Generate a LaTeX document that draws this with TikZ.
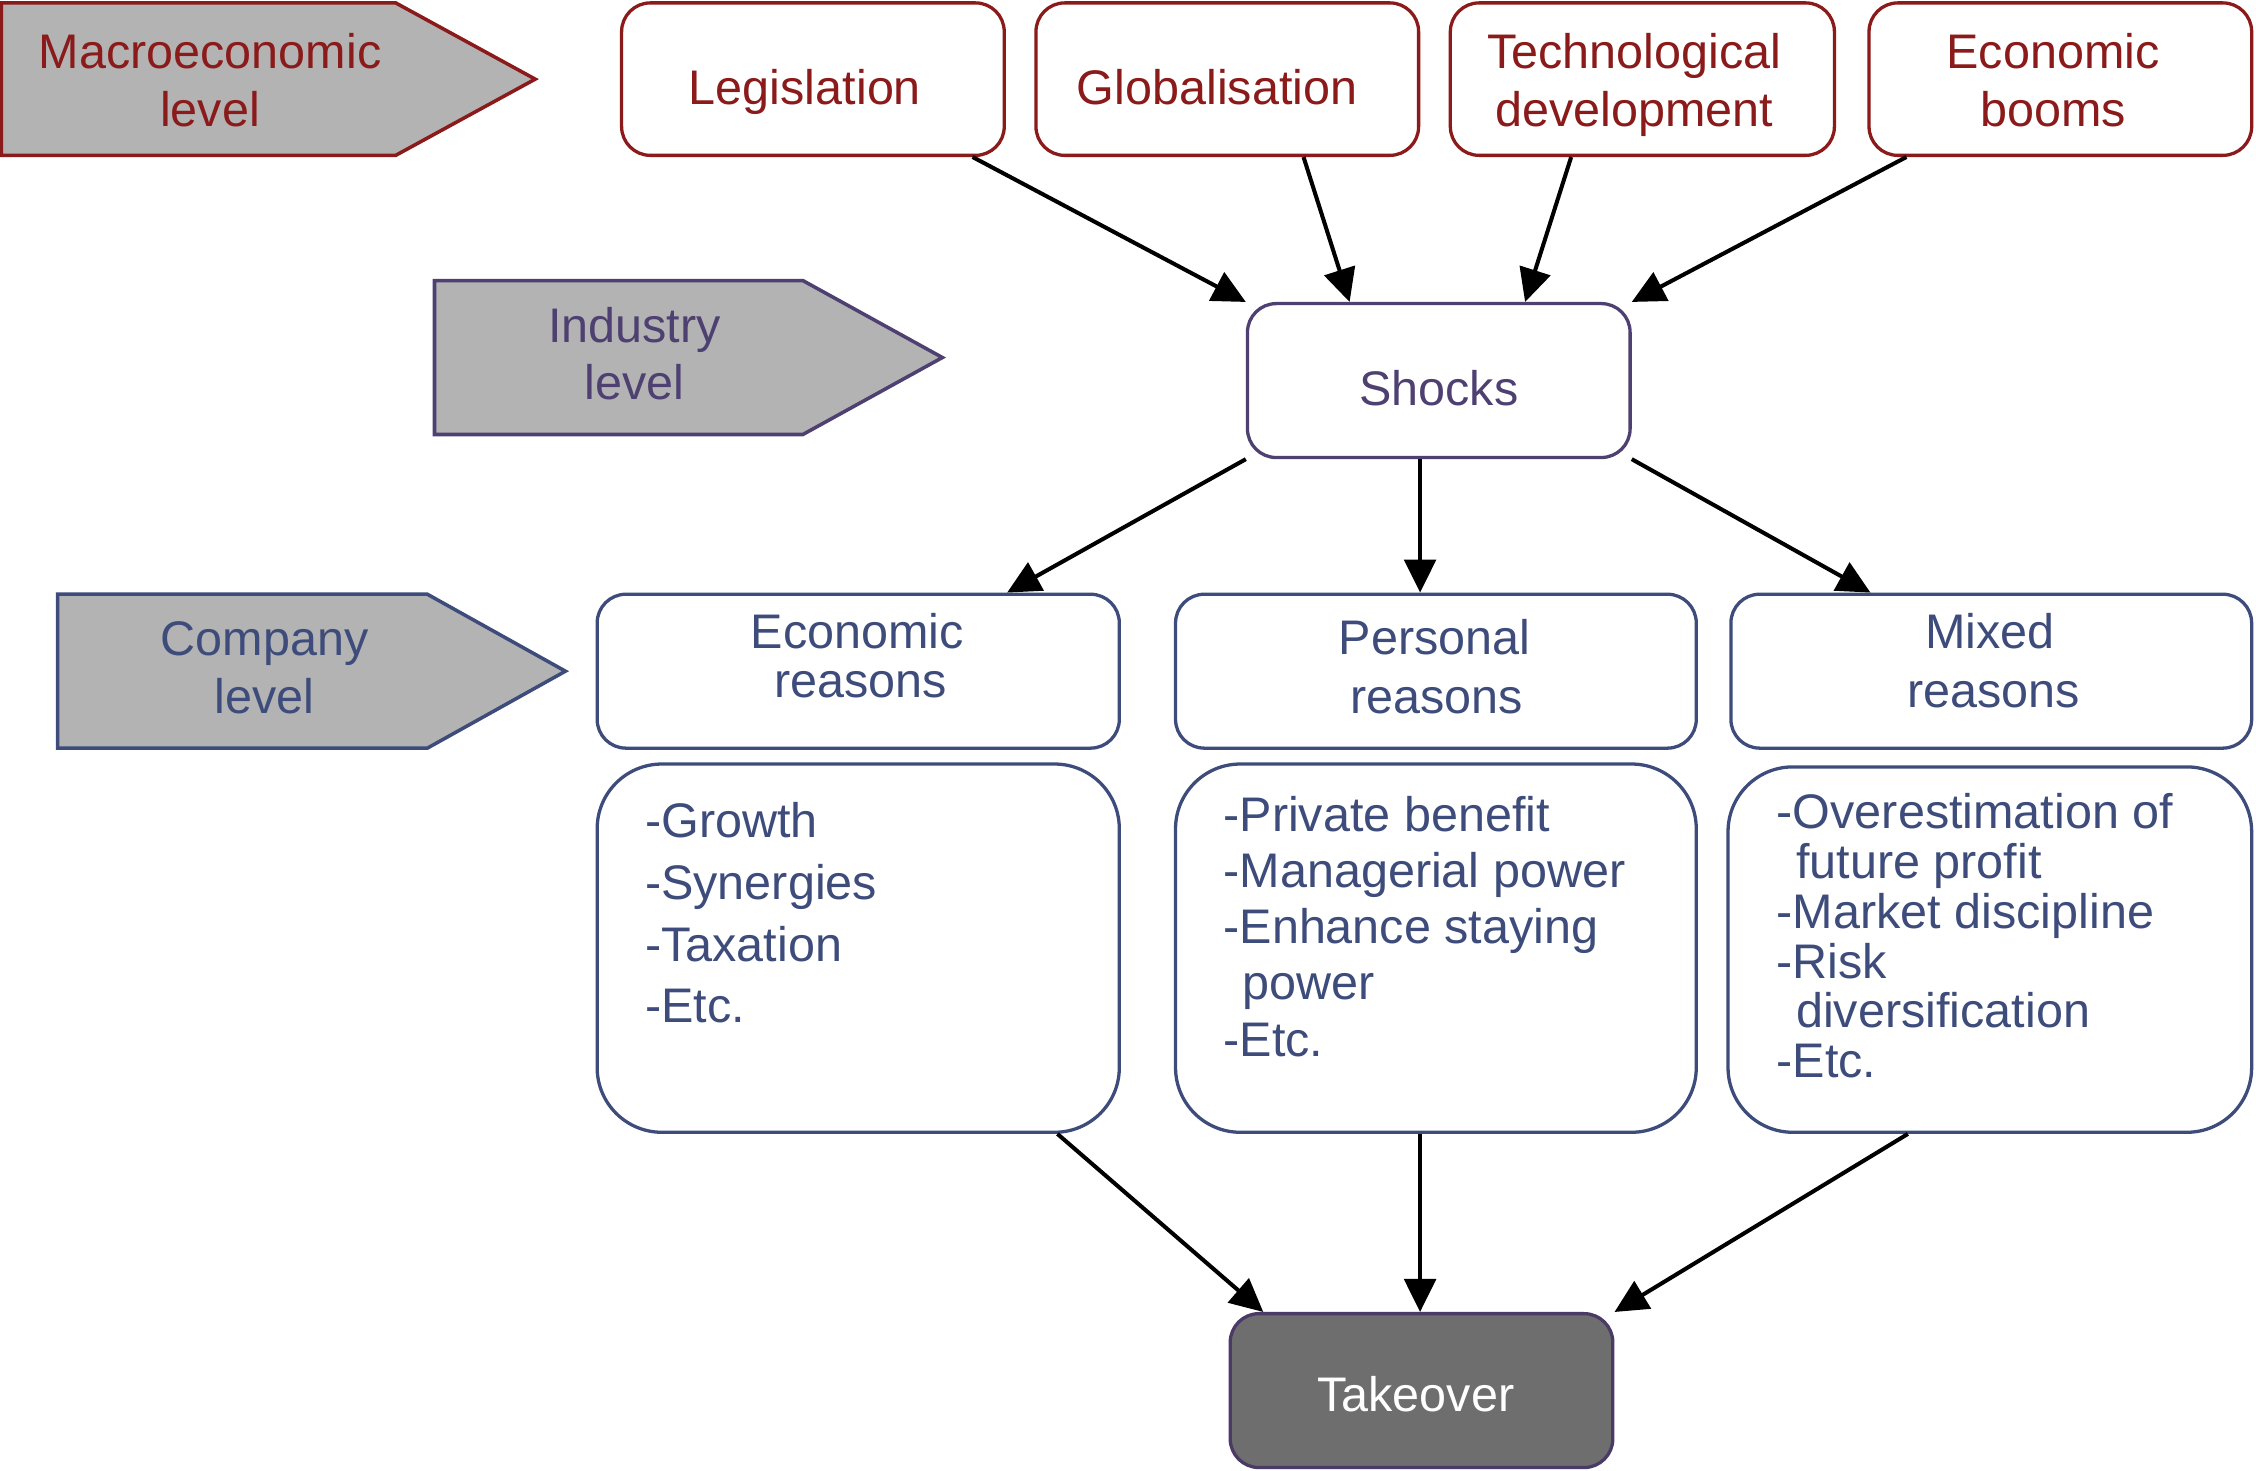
\documentclass[tikz,border=0pt]{standalone}
\usepackage{fontspec}
\setmainfont{Liberation Sans}
\usetikzlibrary{arrows.meta}
\definecolor{redc}{RGB}{139,26,26}
\definecolor{purpc}{RGB}{78,64,112}
\definecolor{bluec}{RGB}{61,76,122}
\definecolor{grayfill}{RGB}{179,179,179}
\definecolor{takefill}{RGB}{110,110,110}
\definecolor{takeborder}{RGB}{74,58,102}
\tikzset{
  lvl/.style={line width=1.4pt, fill=grayfill},
  box/.style={draw, line width=1.3pt, rounded corners=0.4cm, fill=white, inner sep=0pt},
  listbox/.style={box, rounded corners=0.9cm},
  txt/.style={inner sep=0pt, anchor=base, align=center, font=\fontsize{19.2}{22.8}\selectfont},
  ltxt/.style={inner sep=0pt, anchor=base west, align=left},
  arr/.style={line width=1.6pt, -{Triangle[length=0.46cm,width=0.44cm]}},
}
\begin{document}
\begin{tikzpicture}[x=0.02cm,y=-0.02cm]
\useasboundingbox (0,0) rectangle (1568,1022.4);

% level pentagons
\draw[lvl, draw=redc] (1,2) -- (275,2) -- (372,55) -- (275,108) -- (1,108) -- cycle;
\draw[lvl, draw=purpc] (302,195) -- (558,195) -- (655,248.5) -- (558,302) -- (302,302) -- cycle;
\draw[lvl, draw=bluec] (40,413) -- (297,413) -- (393,466.5) -- (297,520) -- (40,520) -- cycle;
\node[txt, text=redc] (macro) at (146,87.6) {Macroeconomic\\level};
\node[txt, text=purpc] (industry) at (441,278) {Industry\\level};
\node[txt, text=bluec] (company) at (184,496) {Company\\level};

% macro boxes
\node[box, draw=redc, minimum width=5.32cm, minimum height=2.12cm] (leg) at (565,55) {};
\node[box, draw=redc, minimum width=5.32cm, minimum height=2.12cm] (glob) at (853,55) {};
\node[box, draw=redc, minimum width=5.34cm, minimum height=2.12cm] (tech) at (1141.5,55) {};
\node[box, draw=redc, minimum width=5.32cm, minimum height=2.12cm] (boom) at (1432,55) {};
\node[txt, text=redc] (legt) at (559.5,72.5) {Legislation};
\node[txt, text=redc] (globt) at (846,72.5) {Globalisation};
\node[txt, text=redc] (techt) at (1136,88) {Technological\\development};
\node[txt, text=redc] (boomt) at (1427,88) {Economic\\booms};

% shocks
\node[box, draw=purpc, minimum width=5.32cm, minimum height=2.14cm] (shocks) at (1000,264.5) {};
\node[txt, text=purpc] (shockst) at (1000,281.5) {Shocks};

% reason headers
\node[box, draw=bluec, minimum width=7.26cm, minimum height=2.14cm] (econ) at (596.5,466.5) {};
\node[box, draw=bluec, minimum width=7.24cm, minimum height=2.14cm] (pers) at (998,466.5) {};
\node[box, draw=bluec, minimum width=7.24cm, minimum height=2.14cm] (mixed) at (1384,466.5) {};
\node[txt, text=bluec, font=\fontsize{19.2}{19.4}\selectfont] (econt) at (596,485) {Economic\\\hspace*{0.08cm}reasons};
\node[txt, text=bluec, font=\fontsize{19.2}{23.1}\selectfont] (perst) at (997,495.6) {Personal\\\hspace*{0.06cm}reasons};
\node[txt, text=bluec, font=\fontsize{19.2}{23.3}\selectfont] (mixedt) at (1383,492) {Mixed\\\hspace*{0.1cm}reasons};

% list boxes
\node[listbox, draw=bluec, minimum width=7.26cm, minimum height=5.12cm] (econlist) at (596.5,659) {};
\node[listbox, draw=bluec, minimum width=7.24cm, minimum height=5.12cm] (perslist) at (998,659) {};
\node[listbox, draw=bluec, minimum width=7.28cm, minimum height=5.08cm] (mixlist) at (1383,660) {};
\node[ltxt, text=bluec, font=\fontsize{19.2}{24.45}\selectfont] (econl) at (448,711)
  {-Growth\\-Synergies\\-Taxation\\-Etc.};
\node[ltxt, text=bluec, font=\fontsize{19.2}{22.2}\selectfont] (persl) at (850,734)
  {-Private benefit\\-Managerial power\\-Enhance staying\\\hspace*{0.27cm}power\\-Etc.};
\node[ltxt, text=bluec, font=\fontsize{19.2}{19.7}\selectfont] (mixl) at (1234.5,749)
  {-Overestimation of\\\hspace*{0.27cm}future profit\\-Market discipline\\-Risk\\\hspace*{0.27cm}diversification\\-Etc.};

% takeover
\node[box, draw=takeborder, fill=takefill, minimum width=5.32cm, minimum height=2.14cm] (take) at (988,966.5) {};
\node[txt, text=white] (taket) at (984,981) {Takeover};

% arrows
\draw[arr] ([xshift=2.22cm]leg.south) -- (shocks.north west);
\draw[arr] ([xshift=1.06cm]glob.south) -- ([xshift=-1.24cm]shocks.north);
\draw[arr] ([xshift=-0.99cm]tech.south) -- ([xshift=1.2cm]shocks.north);
\draw[arr] ([xshift=-2.14cm]boom.south) -- (shocks.north east);
\draw[arr] (shocks.south west) -- ([xshift=2.07cm]econ.north);
\draw[arr] ([xshift=-0.26cm]shocks.south) -- ([xshift=-0.26cm]shocks.south |- pers.north);
\draw[arr] (shocks.south east) -- ([xshift=-1.68cm]mixed.north);
\draw[arr] ([xshift=2.77cm]econlist.south) -- ([xshift=-2.2cm]take.north);
\draw[arr] ([xshift=-0.02cm]take.north |- perslist.south) -- ([xshift=-0.02cm]take.north);
\draw[arr] ([xshift=-1.14cm]mixlist.south) -- (take.north east);
\end{tikzpicture}
\end{document}
